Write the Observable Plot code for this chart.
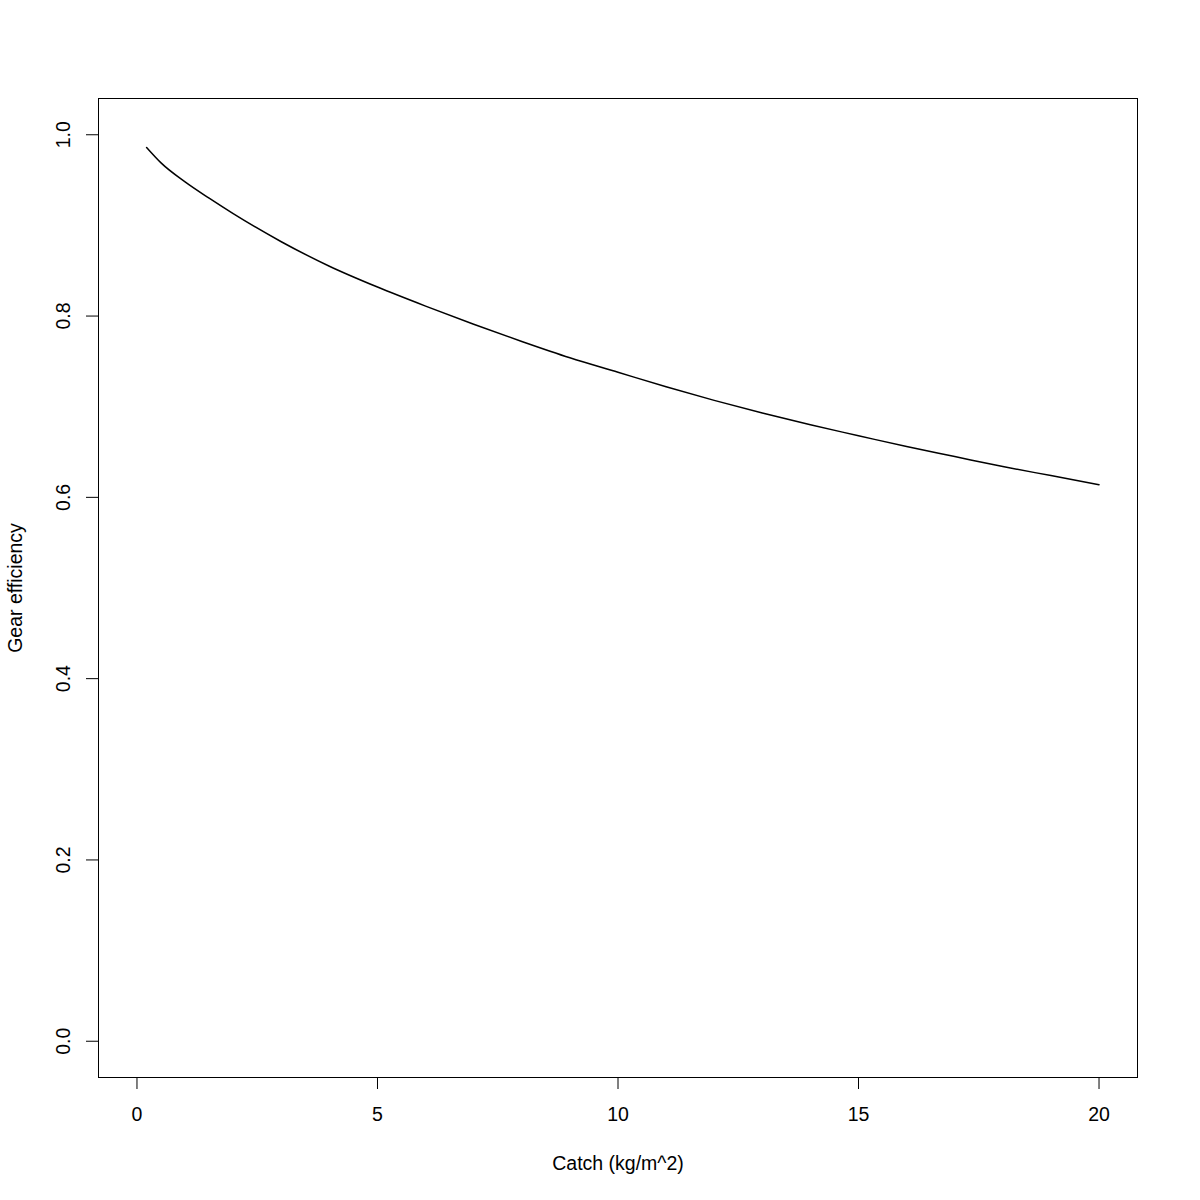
<!DOCTYPE html>
<html>
<head>
<meta charset="utf-8">
<script src="https://cdn.jsdelivr.net/npm/d3@7"></script>
<script src="https://cdn.jsdelivr.net/npm/@observablehq/plot@0.6"></script>
<style>
  html, body { margin: 0; padding: 0; background: white; }
</style>
</head>
<body>
<div id="chart"></div>
<script>
// Catch (kg/m^2) values along the curve
const catchKg = [0.2, 0.5, 1, 1.5, 2, 3, 4, 5, 6, 7, 8, 9, 10, 11, 12, 13, 14, 15, 16, 17, 18, 19, 20];
// Gear efficiency
const efficiency = [0.986, 0.969, 0.948, 0.930, 0.913, 0.882, 0.855, 0.832, 0.811, 0.791, 0.772, 0.754, 0.738, 0.722, 0.707, 0.693, 0.680, 0.668, 0.656, 0.645, 0.634, 0.624, 0.614];
const xTicks = [0, 5, 10, 15, 20];
const yTicks = [0, 0.2, 0.4, 0.6, 0.8, 1.0];
const xLabel = "Catch (kg/m^2)";
const yLabel = "Gear efficiency";

const data = catchKg.map((c, i) => ({catch: c, eff: efficiency[i]}));
const FS = 19.5;

const chart = Plot.plot({
  width: 1200,
  height: 1200,
  marginLeft: 98,
  marginRight: 63,
  marginTop: 98,
  marginBottom: 123,
  style: {fontFamily: "'Liberation Sans', Arial, Helvetica, sans-serif", fontSize: FS + "px", background: "white", color: "black"},
  x: {domain: [-0.8, 20.8]},
  y: {domain: [-0.04, 1.04]},
  marks: [
    Plot.frame({stroke: "black", strokeWidth: 1}),
    Plot.axisX({ticks: xTicks, tickSize: 12, tickPadding: 18, tickFormat: d => String(d), label: null, stroke: "black", fill: "black", fontSize: FS}),
    Plot.axisY({ticks: yTicks, tickSize: 12, tickFormat: () => "", label: null, stroke: "black"}),
    Plot.text(yTicks, {frameAnchor: "left", y: d => d, text: d3.format(".1f"), rotate: -90, dx: -35, textAnchor: "middle", lineAnchor: "middle", fill: "black", fontSize: FS}),
    Plot.text([yLabel], {frameAnchor: "left", text: d => d, rotate: -90, dx: -83, textAnchor: "middle", lineAnchor: "middle", fill: "black", fontSize: FS}),
    Plot.text([xLabel], {frameAnchor: "bottom", text: d => d, dy: 86, textAnchor: "middle", lineAnchor: "middle", fill: "black", fontSize: FS}),
    Plot.line(data, {x: "catch", y: "eff", stroke: "black", strokeWidth: 1.5, curve: "monotone-x"})
  ]
});
document.getElementById("chart").appendChild(chart);
</script>
</body>
</html>
